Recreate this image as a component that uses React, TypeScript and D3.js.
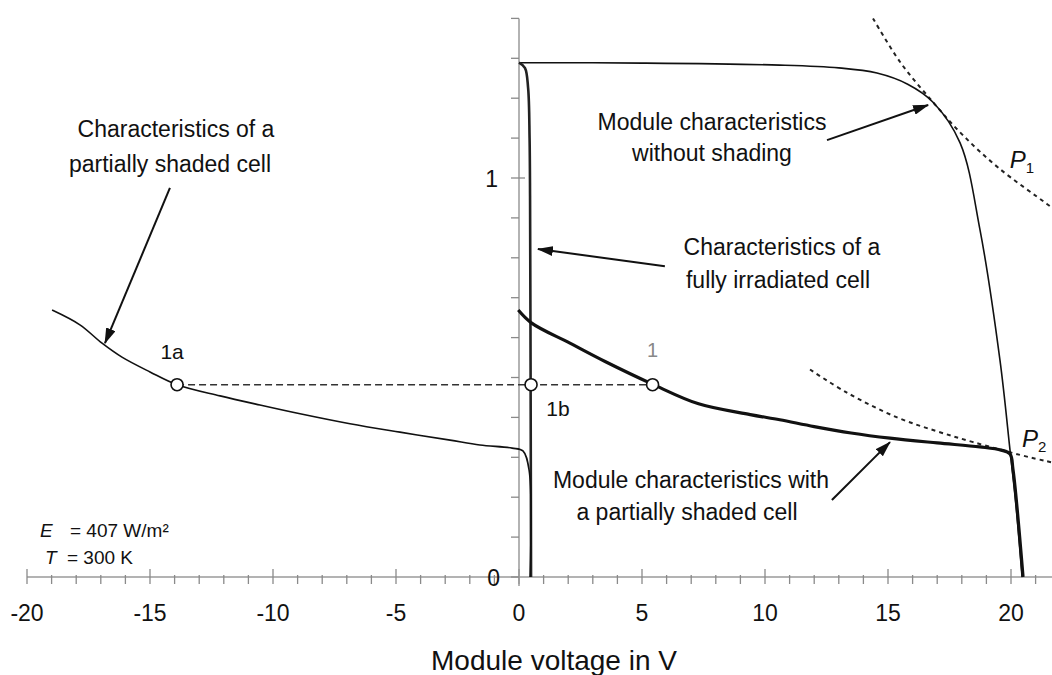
import * as d3 from "d3";

// current / voltage readings (V in volts, I in amperes)
const moduleNoShade: [number, number][] = [
  [0, 1.289], [5, 1.288], [10.6, 1.283], [13, 1.276], [14.55, 1.263],
  [15.8, 1.235], [16.83, 1.19], [17.93, 1.088], [18.74, 0.87],
  [19.55, 0.544], [19.96, 0.318], [20.2, 0.18], [20.45, 0],
];

const moduleShaded: [number, number][] = [
  [-0.03, 0.669], [0.5, 0.637], [2.07, 0.586], [3.5, 0.54], [5.4, 0.484],
  [7.3, 0.434], [9.4, 0.407], [10.6, 0.394], [12, 0.377], [13.5, 0.361],
  [15.08, 0.348], [17, 0.336], [18.74, 0.326], [19.6, 0.318], [19.96, 0.308],
  [20.08, 0.27], [20.49, 0],
];

const shadedCell: [number, number][] = [
  [-18.98, 0.669], [-17.85, 0.632], [-16.95, 0.586], [-16.14, 0.551],
  [-15.0, 0.514], [-13.9, 0.482], [-12.15, 0.454], [-10.53, 0.431],
  [-8.9, 0.409], [-6.87, 0.384], [-4.84, 0.363], [-2.8, 0.343],
  [-1.59, 0.331], [-0.28, 0.323], [0.16, 0.316], [0.41, 0.268], [0.45, 0],
];

const fullCell: [number, number][] = [
  [0, 1.289], [0.24, 1.276], [0.37, 1.226], [0.43, 1.1], [0.45, 0.945],
  [0.47, 0.54], [0.49, 0],
];

const powerP1: [number, number][] = [
  [14.39, 1.4], [15.5, 1.29], [16.83, 1.19], [18.0, 1.11], [19.5, 1.025],
  [21.46, 0.935], [22.0, 0.91],
];

const powerP2: [number, number][] = [
  [11.83, 0.52], [13.33, 0.462], [15.37, 0.4], [17.0, 0.365], [18.46, 0.338],
  [20.37, 0.306], [21.46, 0.29], [22.0, 0.283],
];

const opPoints: [number, number, string][] = [
  [-13.9, 0.482, "1a"], [0.49, 0.482, "1b"], [5.43, 0.482, "1"],
];

const xLabels = [-20, -15, -10, -5, 0, 5, 10, 15, 20];
const yLabels = [0, 1];

const width = 1052;
const height = 675;

const x = d3.scaleLinear().domain([-20, 20]).range([27, 1011]);
const y = d3.scaleLinear().domain([0, 1]).range([577, 178]);

const line = d3
  .line<[number, number]>()
  .x((d) => x(d[0]))
  .y((d) => y(d[1]))
  .curve(d3.curveCatmullRom.alpha(0.5));

const font = "'Liberation Sans', Arial, Helvetica, sans-serif";

// arrows: [tailV, tailI, tipV, tipI]
const arrows = [
  [-14.19, 0.975, -16.83, 0.586],
  [12.52, 1.095, 16.63, 1.183],
  [5.93, 0.779, 0.77, 0.822],
  [12.72, 0.193, 15.08, 0.338],
];

const App = () => {
  const x0 = x(0);
  const y0 = y(0);
  const minorX = d3.range(-20, 22);
  const minorY = d3.range(0, 15).map((d) => d / 10);

  return (
    <svg
      width={width}
      height={height}
      style={{ position: "absolute", left: 0, top: 0, background: "#fff" }}
      fontFamily={font}
    >
      <defs>
        <marker
          id="ah"
          viewBox="0 0 16 10"
          refX={15}
          refY={5}
          markerWidth={16}
          markerHeight={10}
          markerUnits="userSpaceOnUse"
          orient="auto"
        >
          <path d="M0,0 L16,5 L0,10 z" fill="#111" />
        </marker>
      </defs>

      {/* x axis */}
      <line x1={x(-20)} x2={width} y1={y0} y2={y0} stroke="#9a9a9a" strokeWidth={1.5} />
      {minorX.map((v) => {
        const major = v % 5 === 0;
        return (
          <line
            key={"xt" + v}
            x1={x(v)}
            x2={x(v)}
            y1={major ? y0 - 8 : y0 - 2}
            y2={y0 + 7}
            stroke="#8a8a8a"
            strokeWidth={1.3}
          />
        );
      })}
      {xLabels.map((v) => (
        <text key={"xl" + v} x={x(v)} y={621} fontSize={23} textAnchor="middle" fill="#111">
          {v}
        </text>
      ))}
      <text x={554} y={670} fontSize={28} textAnchor="middle" fill="#111">
        Module voltage in V
      </text>

      {/* y axis */}
      <line x1={x0} x2={x0} y1={y(1.4)} y2={y0 + 9} stroke="#9a9a9a" strokeWidth={1.5} />
      {minorY.map((v) => {
        const major = Math.abs(v - 1) < 1e-6;
        return (
          <line
            key={"yt" + v}
            x1={x0 - 8}
            x2={major ? x0 + 6 : x0}
            y1={y(v)}
            y2={y(v)}
            stroke="#8a8a8a"
            strokeWidth={1.3}
          />
        );
      })}
      {yLabels.map((v) => (
        <text key={"yl" + v} x={v === 0 ? x0 - 19 : x0 - 21} y={y(v) + 9} fontSize={23} textAnchor="end" fill="#111">
          {v}
        </text>
      ))}

      {/* constant power curves */}
      <path d={line(powerP1) ?? ""} fill="none" stroke="#222" strokeWidth={2} strokeDasharray="4 4" />
      <path d={line(powerP2) ?? ""} fill="none" stroke="#222" strokeWidth={2} strokeDasharray="4 4" />

      {/* characteristics */}
      <path d={line(moduleNoShade) ?? ""} fill="none" stroke="#111" strokeWidth={1.6} />
      <path d={line(fullCell) ?? ""} fill="none" stroke="#222" strokeWidth={2.6} />
      <path d={line(shadedCell) ?? ""} fill="none" stroke="#111" strokeWidth={1.6} />
      <path d={line(moduleShaded) ?? ""} fill="none" stroke="#111" strokeWidth={3.2} />

      {/* operating point 1 */}
      <line
        x1={x(opPoints[0][0])}
        x2={x(opPoints[2][0])}
        y1={y(opPoints[0][1])}
        y2={y(opPoints[0][1])}
        stroke="#333"
        strokeWidth={1.6}
        strokeDasharray="7 4"
      />
      {opPoints.map((p) => (
        <circle key={p[2]} cx={x(p[0])} cy={y(p[1])} r={6} fill="#fff" stroke="#111" strokeWidth={1.6} />
      ))}
      <text x={x(opPoints[0][0]) - 5} y={y(opPoints[0][1]) - 26} fontSize={21} textAnchor="middle" fill="#111">1a</text>
      <text x={x(opPoints[1][0]) + 27} y={y(opPoints[1][1]) + 31} fontSize={21} textAnchor="middle" fill="#111">1b</text>
      <text x={x(opPoints[2][0])} y={y(opPoints[2][1]) - 28} fontSize={20} textAnchor="middle" fill="#888">1</text>

      {/* arrows */}
      {arrows.map((a, i) => (
        <line
          key={"ar" + i}
          x1={x(a[0])}
          y1={y(a[1])}
          x2={x(a[2])}
          y2={y(a[3])}
          stroke="#111"
          strokeWidth={2}
          markerEnd="url(#ah)"
        />
      ))}

      {/* annotations */}
      <g fontSize={23} fill="#111" textAnchor="middle">
        <text x={176} y={137}>Characteristics of a</text>
        <text x={170} y={172}>partially shaded cell</text>
        <text x={712} y={130}>Module characteristics</text>
        <text x={712} y={161}>without shading</text>
        <text x={782} y={255}>Characteristics of a</text>
        <text x={778} y={288}>fully irradiated cell</text>
        <text x={691} y={488}>Module characteristics with</text>
        <text x={687} y={520}>a partially shaded cell</text>
      </g>

      <text x={x(19.95)} y={y(1.025)} fontSize={24} fontStyle="italic" fill="#111">
        P<tspan fontSize={15} fontStyle="normal" dy={5}>1</tspan>
      </text>
      <text x={x(20.45)} y={y(0.325)} fontSize={24} fontStyle="italic" fill="#111">
        P<tspan fontSize={15} fontStyle="normal" dy={5}>2</tspan>
      </text>

      <g fontSize={19} fill="#111">
        <text x={40} y={537}>
          <tspan fontStyle="italic">E</tspan>
          <tspan x={70}>= 407 W/m²</tspan>
        </text>
        <text x={45} y={564}>
          <tspan fontStyle="italic">T</tspan>
          <tspan x={67}>= 300 K</tspan>
        </text>
      </g>
    </svg>
  );
};

export default App;
